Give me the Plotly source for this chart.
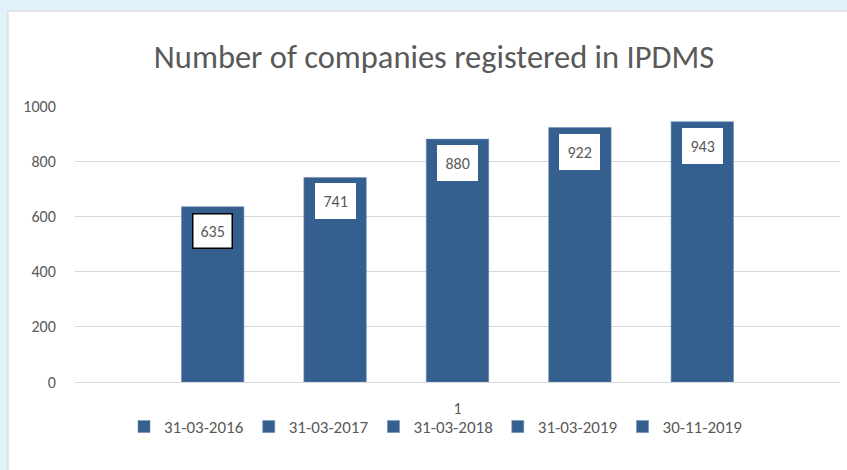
import plotly.graph_objects as go

category = ["1"]
series_names = ["31-03-2016", "31-03-2017", "31-03-2018", "31-03-2019", "30-11-2019"]
values = [635, 741, 880, 922, 943]
y_ticks = [0, 200, 400, 600, 800, 1000]

bar_color = "#355F8F"
text_color = "#595959"
font_fam = "Carlito, Lato, sans-serif"

W, H = 847, 470
ml, mr, mt, mb = 75, 7, 106, 88
pw, ph = W - ml - mr, H - mt - mb
bargap = 0.2

fig = go.Figure()
for name, v in zip(series_names, values):
    fig.add_trace(go.Bar(
        x=category, y=[v], name=name,
        marker=dict(color=bar_color, line=dict(color="#6f8fb8", width=0.6)),
    ))

n = len(values)
for i, v in enumerate(values):
    xpos = (i - (n - 1) / 2) * (1 - bargap) / n
    fig.add_annotation(
        x=xpos, y=v, xref="x", yref="y", text=str(v), showarrow=False,
        yanchor="top", yshift=-6,
        font=dict(family=font_fam, size=16, color=text_color),
        bgcolor="white",
        bordercolor="black" if i == 0 else "white",
        borderwidth=1.5, borderpad=7,
    )

# white panel
def px2x(p):
    return (p - ml) / pw

def py2y(p):
    return (H - mb - p) / ph

fig.add_shape(type="rect", xref="paper", yref="paper",
              x0=px2x(8), x1=px2x(852), y0=py2y(475), y1=py2y(11),
              fillcolor="white", line=dict(color="#d3d3d3", width=1), layer="below")

fig.update_layout(
    width=W, height=H,
    margin=dict(l=ml, r=mr, t=mt, b=mb),
    paper_bgcolor="#e1f1fa",
    plot_bgcolor="rgba(0,0,0,0)",
    barmode="group", bargap=bargap, bargroupgap=0.49,
    title=dict(text="Number of companies registered in IPDMS",
               x=434 / W, xref="container", xanchor="center",
               y=1 - 57 / H, yref="container", yanchor="middle",
               font=dict(family=font_fam, size=32.5, color=text_color)),
    font=dict(family=font_fam, color=text_color),
    legend=dict(orientation="h", x=px2x(436), xanchor="center",
                y=-(427 - (H - mb)) / ph, yanchor="middle",
                font=dict(family=font_fam, size=17, color=text_color),
                itemwidth=30, bgcolor="rgba(0,0,0,0)"),
    showlegend=True,
)
fig.update_yaxes(range=[0, 1000], tickvals=y_ticks, showgrid=True,
                 gridcolor="#d9d9d9", gridwidth=1, zeroline=False,
                 ticks="outside", ticklen=15, tickcolor="rgba(0,0,0,0)",
                 tickfont=dict(family=font_fam, size=16, color=text_color),
                 showline=False)
fig.update_xaxes(type="category", showgrid=False, zeroline=False,
                 ticks="outside", ticklen=12, tickcolor="rgba(0,0,0,0)",
                 tickfont=dict(family=font_fam, size=16, color=text_color),
                 showline=True, linecolor="#d9d9d9", linewidth=1)

fig.write_html("out.html", config={"displayModeBar": False},
               post_script="document.body.style.margin='0px';")
